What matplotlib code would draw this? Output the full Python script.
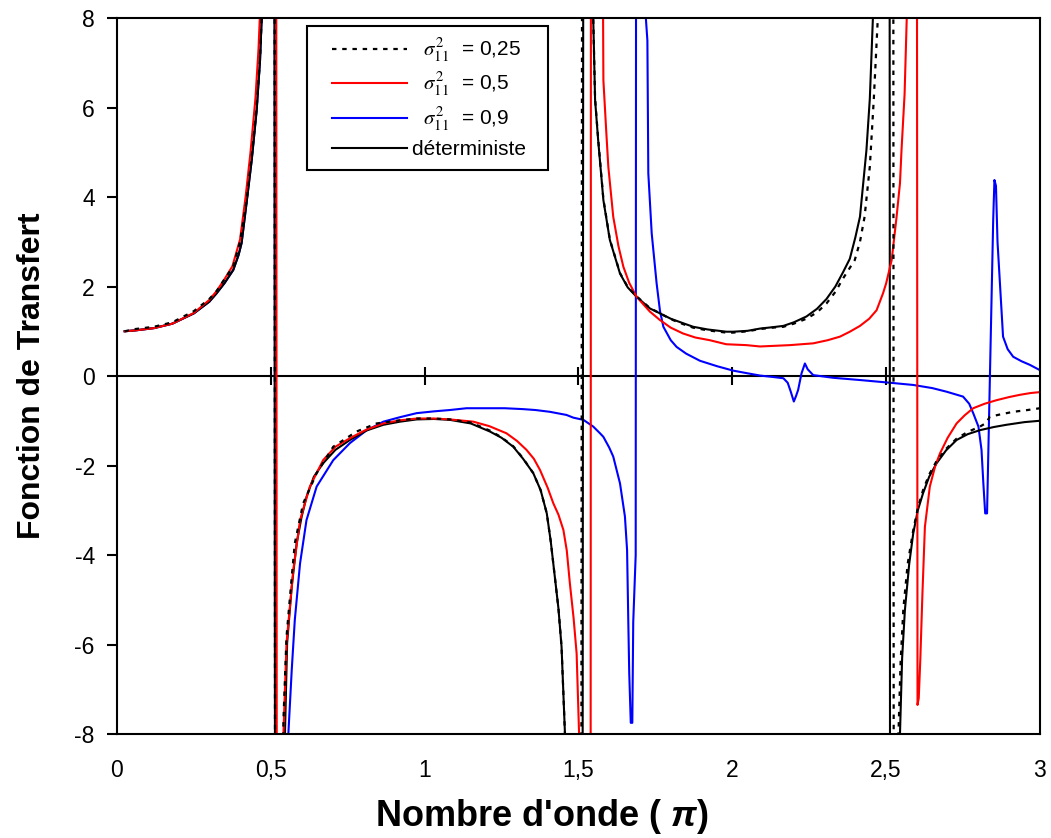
import matplotlib
matplotlib.use('Agg')
from matplotlib import pyplot as plt
from matplotlib.font_manager import FontProperties
from matplotlib.legend_handler import HandlerLine2D

plt.rcParams['font.family'] = 'Liberation Sans'
plt.rcParams['axes.unicode_minus'] = False
plt.rcParams['mathtext.fontset'] = 'custom'
plt.rcParams['mathtext.rm'] = 'Liberation Sans:bold'
plt.rcParams['mathtext.it'] = 'Liberation Sans:italic:bold'

# deterministic curve
det_x = [0.025, 0.06, 0.12, 0.18, 0.25, 0.30, 0.324, 0.35, 0.378, 0.395, 0.405, 0.421,
         0.438, 0.454, 0.465, 0.472, 0.49, 0.51, 0.516, 0.53, 0.546, 0.553, 0.568, 0.584,
         0.60, 0.616, 0.64, 0.67, 0.71, 0.757, 0.81, 0.866, 0.92, 0.974, 1.03, 1.082,
         1.15, 1.212, 1.25, 1.288, 1.32, 1.353, 1.377, 1.397, 1.41, 1.423, 1.435, 1.445,
         1.456, 1.47, 1.49, 1.508, 1.521, 1.54, 1.548, 1.554, 1.564, 1.581, 1.602, 1.635,
         1.66, 1.689, 1.732, 1.765, 1.80, 1.84, 1.873, 1.92, 1.981, 2.003, 2.05, 2.09,
         2.13, 2.166, 2.2, 2.241, 2.275, 2.306, 2.335, 2.36, 2.382, 2.40, 2.415, 2.436,
         2.447, 2.457, 2.47, 2.49, 2.508, 2.516, 2.53, 2.545, 2.552, 2.561, 2.575, 2.588,
         2.603, 2.62, 2.64, 2.664, 2.695, 2.729, 2.765, 2.805, 2.85, 2.891, 2.95, 3.0]
det_y = [1.00, 1.02, 1.07, 1.17, 1.40, 1.66, 1.85, 2.08, 2.37, 2.70, 2.97, 3.86,
         4.83, 5.94, 7.06, 8.3, 16, 40, -40, -16, -8.0, -5.97, -4.71, -3.74,
         -3.15, -2.70, -2.25, -1.95, -1.65, -1.43, -1.22, -1.09, -1.02, -0.97, -0.96, -0.98,
         -1.06, -1.24, -1.38, -1.58, -1.85, -2.17, -2.55, -3.07, -3.7, -4.48, -5.2, -6.05,
         -7.98, -12, -25, -60, 60, 16, 7.99, 6.17, 5.27, 3.93, 3.04, 2.29,
         1.98, 1.77, 1.51, 1.40, 1.28, 1.18, 1.10, 1.04, 0.99, 0.99, 1.01, 1.06,
         1.09, 1.12, 1.20, 1.33, 1.50, 1.72, 2.0, 2.32, 2.62, 3.1, 3.56, 5.05,
         6.2, 8.0, 11, 25, 60, -60, -16, -8.0, -6.3, -5.23, -4.2, -3.52,
         -3.0, -2.62, -2.25, -1.95, -1.66, -1.43, -1.30, -1.21, -1.14, -1.09, -1.03, -1.0]

# sigma^2 = 0,25 (dotted)
s025_x = [0.025, 0.06, 0.12, 0.18, 0.25, 0.30, 0.324, 0.35, 0.378, 0.40, 0.421, 0.438,
          0.454, 0.465, 0.472, 0.49, 0.51, 0.516, 0.53, 0.541, 0.551, 0.568, 0.578, 0.605,
          0.649, 0.703, 0.779, 0.844, 0.92, 0.974, 1.03, 1.082, 1.15, 1.212, 1.25, 1.288,
          1.32, 1.353, 1.377, 1.397, 1.41, 1.423, 1.435, 1.445, 1.456, 1.47, 1.49, 1.503,
          1.518, 1.54, 1.548, 1.554, 1.564, 1.581, 1.602, 1.635, 1.66, 1.689, 1.732, 1.765,
          1.80, 1.84, 1.873, 1.92, 1.981, 2.003, 2.05, 2.09, 2.13, 2.166, 2.2, 2.241,
          2.275, 2.306, 2.335, 2.36, 2.398, 2.415, 2.43, 2.447, 2.46, 2.473, 2.49, 2.52,
          2.528, 2.535, 2.540, 2.547, 2.556, 2.57, 2.588, 2.603, 2.62, 2.64, 2.664, 2.696,
          2.729, 2.765, 2.805, 2.825, 2.837, 2.87, 2.913, 2.96, 3.0]
s025_y = [1.00, 1.05, 1.10, 1.20, 1.45, 1.72, 1.90, 2.17, 2.45, 3.0, 3.9, 4.9,
          6.0, 7.1, 8.3, 16, 40, -40, -16, -7.69, -5.83, -4.49, -3.74, -2.85,
          -2.17, -1.58, -1.24, -1.06, -0.99, -0.95, -0.95, -0.97, -1.04, -1.22, -1.37, -1.57,
          -1.84, -2.17, -2.55, -3.07, -3.7, -4.48, -5.2, -6.05, -7.98, -12, -25, -60,
          60, 16, 7.99, 6.2, 5.3, 3.95, 3.05, 2.3, 1.99, 1.78, 1.52, 1.40,
          1.27, 1.16, 1.08, 1.02, 0.97, 0.97, 1.0, 1.05, 1.08, 1.10, 1.17, 1.28,
          1.42, 1.62, 1.88, 2.18, 2.59, 3.0, 3.56, 4.68, 6.2, 8.0, 14, 60,
          -60, -16, -8.0, -6.4, -5.2, -4.2, -3.45, -2.95, -2.55, -2.2, -1.90, -1.62,
          -1.40, -1.25, -1.13, -1.05, -0.91, -0.86, -0.80, -0.76, -0.72]

# sigma^2 = 0,5 (red)
s05_x = [0.025, 0.06, 0.12, 0.18, 0.25, 0.30, 0.324, 0.35, 0.375, 0.40, 0.418, 0.434,
         0.45, 0.46, 0.466, 0.49, 0.515, 0.522, 0.533, 0.541, 0.551, 0.573, 0.595, 0.627,
         0.67, 0.71, 0.757, 0.81, 0.866, 0.92, 0.974, 1.03, 1.082, 1.158, 1.21, 1.266,
         1.30, 1.331, 1.355, 1.375, 1.40, 1.418, 1.435, 1.451, 1.462, 1.472, 1.484, 1.494,
         1.502, 1.52, 1.537, 1.543, 1.575, 1.58, 1.581, 1.59, 1.597, 1.613, 1.63, 1.646,
         1.665, 1.689, 1.732, 1.765, 1.80, 1.84, 1.88, 1.927, 1.98, 2.046, 2.09, 2.187,
         2.263, 2.31, 2.35, 2.382, 2.415, 2.445, 2.469, 2.49, 2.50, 2.518, 2.534, 2.545,
         2.55, 2.56, 2.567, 2.58, 2.597, 2.602, 2.606, 2.611, 2.618, 2.626, 2.642, 2.66,
         2.675, 2.70, 2.729, 2.755, 2.783, 2.82, 2.859, 2.9, 2.935, 2.97, 3.0]
s05_y = [1.00, 1.02, 1.07, 1.17, 1.41, 1.70, 1.90, 2.17, 2.45, 3.05, 4.0, 5.0,
         6.2, 7.3, 8.3, 20, 40, -40, -16, -8.0, -5.97, -4.34, -3.22, -2.47,
         -1.88, -1.58, -1.39, -1.20, -1.06, -0.99, -0.95, -0.95, -0.97, -1.02, -1.12, -1.28,
         -1.45, -1.65, -1.85, -2.10, -2.5, -2.84, -3.1, -3.44, -3.9, -4.63, -5.4, -6.2,
         -8.0, -20, -60, 60, 25, 8.0, 6.61, 5.5, 4.68, 3.56, 2.9, 2.44,
         2.08, 1.77, 1.44, 1.25, 1.08, 0.95, 0.86, 0.80, 0.71, 0.69, 0.66, 0.69,
         0.73, 0.80, 0.88, 0.99, 1.12, 1.28, 1.47, 1.85, 2.07, 2.59, 3.56, 4.31,
         5.05, 6.3, 8.0, 15, 40, -7.35, -7.2, -6.35, -4.86, -3.37, -2.47, -2.0,
         -1.73, -1.38, -1.06, -0.88, -0.72, -0.62, -0.54, -0.47, -0.42, -0.38, -0.36]

# sigma^2 = 0,9 (blue)
s09_x = [0.025, 0.06, 0.12, 0.18, 0.25, 0.30, 0.324, 0.35, 0.378, 0.395, 0.405, 0.421,
         0.438, 0.454, 0.465, 0.472, 0.49, 0.51, 0.516, 0.54, 0.557, 0.568, 0.578, 0.595,
         0.616, 0.649, 0.703, 0.757, 0.81, 0.866, 0.92, 0.974, 1.03, 1.082, 1.136, 1.2,
         1.26, 1.32, 1.36, 1.407, 1.461, 1.483, 1.516, 1.548, 1.57, 1.581, 1.60, 1.613,
         1.635, 1.651, 1.658, 1.662, 1.665, 1.670, 1.675, 1.678, 1.686, 1.689, 1.714, 1.719,
         1.724, 1.727, 1.738, 1.754, 1.765, 1.776, 1.80, 1.819, 1.85, 1.895, 1.95, 2.003,
         2.05, 2.09, 2.13, 2.166, 2.18, 2.19, 2.2, 2.207, 2.214, 2.225, 2.236, 2.245,
         2.263, 2.328, 2.415, 2.512, 2.588, 2.65, 2.696, 2.75, 2.77, 2.783, 2.80, 2.81,
         2.816, 2.822, 2.828, 2.848, 2.852, 2.857, 2.862, 2.875, 2.88, 2.895, 2.913, 2.94,
         2.967, 3.0]
s09_y = [1.00, 1.02, 1.07, 1.17, 1.40, 1.66, 1.85, 2.08, 2.37, 2.70, 2.97, 3.86,
         4.83, 5.94, 7.06, 8.3, 16, 40, -40, -16, -8.0, -6.57, -5.45, -4.19,
         -3.22, -2.47, -1.88, -1.50, -1.22, -1.02, -0.92, -0.83, -0.79, -0.76, -0.72, -0.72,
         -0.72, -0.74, -0.76, -0.80, -0.87, -0.93, -0.98, -1.13, -1.28, -1.36, -1.6, -1.80,
         -2.40, -3.14, -3.89, -5.5, -6.64, -7.75, -7.75, -5.5, -4.0, 30, 30, 8.0,
         7.5, 4.53, 3.19, 2.07, 1.45, 1.10, 0.80, 0.65, 0.50, 0.34, 0.22, 0.12,
         0.06, 0.01, -0.02, -0.05, -0.15, -0.35, -0.57, -0.45, -0.31, 0.06, 0.28, 0.15,
         0.02, -0.04, -0.09, -0.15, -0.20, -0.27, -0.35, -0.46, -0.62, -0.83, -1.13, -1.65,
         -2.40, -3.07, -3.07, 3.49, 4.38, 4.25, 3.0, 1.47, 0.88, 0.60, 0.43, 0.33,
         0.25, 0.13]

x_ticks = [0, 0.5, 1, 1.5, 2, 2.5, 3]
x_tick_labels = ['0', '0,5', '1', '1,5', '2', '2,5', '3']
y_ticks = [-8, -6, -4, -2, 0, 2, 4, 6, 8]
legend_labels = [r'  $\sigma_{11}^{2}$  = 0,25', r'  $\sigma_{11}^{2}$  = 0,5',
                 r'  $\sigma_{11}^{2}$  = 0,9', 'déterministe  ']

fig = plt.figure(figsize=(10.51, 8.38), dpi=100)
ax = fig.add_axes([0.1113, 0.1241, 0.8782, 0.8544])

l_blue, = ax.plot(s09_x, s09_y, color='#0000ff', lw=1.5)
l_det, = ax.plot(det_x, det_y, color='black', lw=1.5)
l_red, = ax.plot(s05_x, s05_y, color='#ff0000', lw=1.5)
l_dot, = ax.plot(s025_x, s025_y, color='black', lw=1.6, linestyle=(0, (2.0, 2.6)))

# zero line with its own tick marks
ax.axhline(0, color='black', lw=1.5, zorder=1)
ax.plot(x_ticks[1:-1], [0] * 5, linestyle='none', marker='|', ms=13, mew=1.5,
        color='black', zorder=1)

ax.set_xlim(0, 3)
ax.set_ylim(-8, 8)
ax.set_xticks(x_ticks)
ax.set_xticklabels(x_tick_labels)
ax.set_yticks(y_ticks)
ax.tick_params(axis='x', length=0, pad=18, labelsize=16.5)
ax.tick_params(axis='y', length=7, width=1.5, pad=9, labelsize=16.5, direction='out')
for sp in ax.spines.values():
    sp.set_linewidth(1.5)

ax.set_ylabel('Fonction de Transfert', fontsize=23, fontweight='bold', labelpad=20)
ax.set_xlabel("Nombre d'onde ( $\\pi$)", fontsize=26, fontweight='bold', labelpad=11,
              x=0.4605)

leg_font = FontProperties(family='Liberation Sans', size=15, math_fontfamily='stix')
leg = ax.legend([l_dot, l_red, l_blue, l_det], legend_labels,
                loc='upper left', bbox_to_anchor=(0.206, 0.989), borderaxespad=0,
                prop=leg_font, fancybox=False, edgecolor='black', framealpha=1,
                handlelength=4.3, labelspacing=0.35, handletextpad=0.25,
                borderpad=0.5, handler_map={l_dot: HandlerLine2D(xpad=0.7),
                                            l_red: HandlerLine2D(xpad=0.7),
                                            l_blue: HandlerLine2D(xpad=0.7),
                                            l_det: HandlerLine2D(xpad=0.7)})
leg.get_frame().set_linewidth(1.5)

fig.savefig('out.png', dpi=100)
